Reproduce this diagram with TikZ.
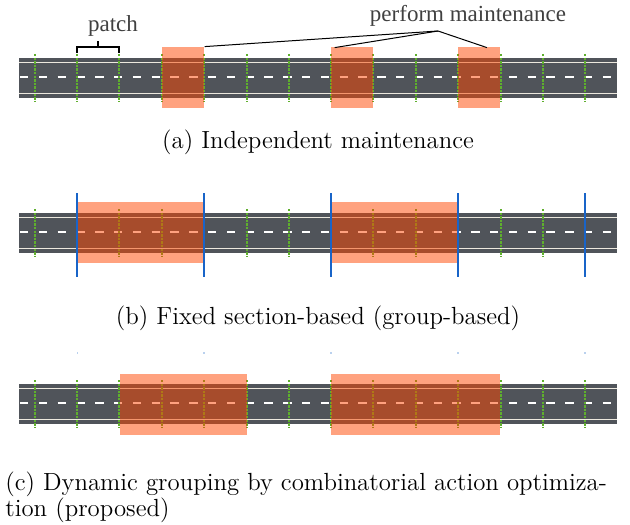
\documentclass[tikz,border=0pt]{standalone}
\usepackage{fontspec}
\newfontfamily\labelfont{Liberation Serif}
\usetikzlibrary{calc}

\definecolor{roadgray}{RGB}{80,84,90}
\definecolor{linecream}{RGB}{236,232,222}
\definecolor{patchgreen}{RGB}{95,175,45}
\definecolor{mainorange}{RGB}{255,69,0}
\definecolor{sectblue}{RGB}{25,100,200}

\begin{document}
\begin{tikzpicture}[x=0.5pt, y=-0.5pt,
    road/.style={fill=roadgray},
    edgeline/.style={draw=linecream, line width=0.8pt},
    centerline/.style={draw=white, line width=1pt, dash pattern=on 4.2pt off 5.2pt},
    patchline/.style={draw=patchgreen, line width=1pt, dash pattern=on 1.2pt off 0.6pt},
    mbox/.style={rectangle, fill=mainorange, fill opacity=0.5, inner sep=0pt, minimum height=30.5pt},
    sectline/.style={draw=sectblue, line width=1pt},
    caption/.style={font=\fontsize{12.4}{13}\selectfont, inner sep=0pt},
    tag/.style={font=\labelfont\fontsize{11.5}{13}\selectfont, text=black!75, inner sep=0pt}]

    \useasboundingbox (0,0) rectangle (630,524);

    % the three roads with their patch borders
    \foreach \yc in {78, 233, 404} {
        \fill[road] (19,\yc-20) rectangle (617,\yc+20);
        \draw[edgeline] (19,\yc-15.5) -- (617,\yc-15.5);
        \draw[edgeline] (19,\yc+15.5) -- (617,\yc+15.5);
        \draw[centerline] (20,\yc-1) -- (617,\yc-1);
        \foreach \px in {35,77,119,162,204,247,289,331,373,416,458,501,543,585}
            \draw[patchline] (\px,\yc-24) -- (\px,\yc+24);
    }

    % (a) single patches
    \foreach \k/\name in {3/m1, 7/m2, 10/m3}
        \node[mbox, minimum width=21.15pt] (\name) at ({35+42.3*(\k+0.5)},77.5) {};
    \node[tag] (patch) at (113,26) {patch};
    \draw[line width=0.6pt] (77,53) -- (77,47) -- (119,47) -- (119,53);
    \draw[line width=0.6pt] (98,47) -- (98,41);
    \node[tag] (pm) at (468,16) {perform maintenance};
    \coordinate (apex) at (438,31);
    \draw[line width=0.5pt] (apex) -- (m1.north east);
    \draw[line width=0.5pt] (apex) -- ($(m2.north west)+(4,1)$);
    \draw[line width=0.5pt] (apex) -- ($(m3.north west)!0.68!(m3.north east)+(0,1)$);
    \node[caption] (capa) at (318,142) {(a) Independent maintenance};

    % (b) fixed sections
    \foreach \k/\n/\name in {1/3/g1, 7/3/g2}
        \node[mbox, minimum width=\n*21.15pt] (\name) at ({35+42.3*(\k+\n/2)},232.5) {};
    \foreach \k in {1,4,7,10,13}
        \draw[sectline] ({35+42.3*\k},193) -- ({35+42.3*\k},277);
    \node[caption] (capb) at (318,318) {(b) Fixed section-based (group-based)};

    % (c) dynamic groups
    \foreach \k in {1,4,7,10,13}
        \draw[sectblue!30, line width=0.8pt] ({35+42.3*\k},352) -- ++(0,2);
    \foreach \k/\n/\name in {2/3/d1, 7/4/d2}
        \node[mbox, minimum width=\n*21.15pt] (\name) at ({35+42.3*(\k+\n/2)},404.5) {};
    \node[caption, align=left, anchor=north west] (capc) at (5,471)
        {(c) Dynamic grouping by combinatorial action optimiza-\\tion (proposed)};
\end{tikzpicture}
\end{document}
